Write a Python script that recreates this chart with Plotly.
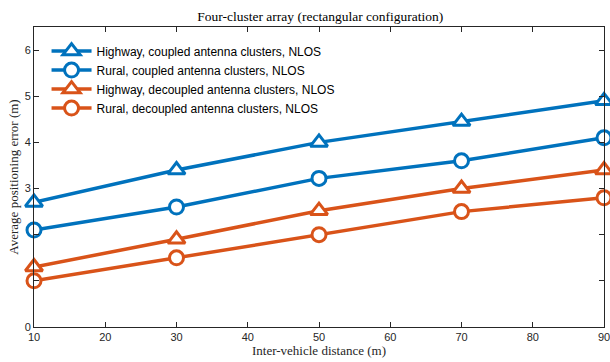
import plotly.graph_objects as go

distance = [10, 30, 50, 70, 90]
highway_coupled = [2.7, 3.4, 4.0, 4.45, 4.9]
rural_coupled = [2.1, 2.6, 3.22, 3.6, 4.1]
highway_decoupled = [1.3, 1.9, 2.52, 3.0, 3.4]
rural_decoupled = [1.0, 1.5, 2.0, 2.5, 2.8]

names = [
    "Highway, coupled antenna clusters, NLOS",
    "Rural, coupled antenna clusters, NLOS",
    "Highway, decoupled antenna clusters, NLOS",
    "Rural, decoupled antenna clusters, NLOS",
]
series = [highway_coupled, rural_coupled, highway_decoupled, rural_decoupled]
colors = ["#0072BD", "#0072BD", "#D95319", "#D95319"]
symbols = ["triangle-up", "circle", "triangle-up", "circle"]
sizes = [15, 14, 15, 14]

xticks = [10, 20, 30, 40, 50, 60, 70, 80, 90]
yticks = [0, 1, 2, 3, 4, 5, 6]
ytext = ["0", "", "", "3", "4", "5", "6"]

fig = go.Figure()
for name, ys, c, s, sz in zip(names, series, colors, symbols, sizes):
    fig.add_trace(go.Scatter(
        x=distance, y=ys, name=name, mode="lines+markers",
        line=dict(color=c, width=3.5),
        marker=dict(symbol=s, size=sz, color="white",
                    line=dict(color=c, width=3)),
        cliponaxis=False,
    ))

axis_common = dict(
    showline=True, linecolor="#262626", linewidth=1, mirror="ticks",
    ticks="inside", ticklen=5, tickcolor="#262626", showgrid=False,
    zeroline=False, automargin=False, ticklabeloverflow="allow",
    tickfont=dict(family="Liberation Sans, Arial", size=11, color="#262626"),
)
fig.update_xaxes(range=[10, 90], tickvals=xticks, **axis_common,
                 title=dict(text="Inter-vehicle distance (m)",
                            font=dict(family="Liberation Serif, Times New Roman", size=13, color="#262626"),
                            standoff=2))
fig.update_yaxes(range=[0, 6.5], tickvals=yticks, ticktext=ytext, **axis_common,
                 title=dict(text="Average positioning error (m)",
                            font=dict(family="Liberation Serif, Times New Roman", size=13, color="#262626"),
                            standoff=3))

fig.update_layout(
    width=610, height=362,
    margin=dict(l=34, r=6, t=27, b=35, autoexpand=False),
    paper_bgcolor="white", plot_bgcolor="white",
    title=dict(text="Four-cluster array (rectangular configuration)",
               font=dict(family="Liberation Serif, Times New Roman", size=13.5, color="#000000"),
               x=0.525, xanchor="center", y=0.955, yanchor="middle"),
    legend=dict(x=0.022, y=0.968, xanchor="left", yanchor="top",
                bgcolor="rgba(255,255,255,0)", borderwidth=0,
                font=dict(family="Liberation Sans, Arial", size=12, color="#000000"),
                tracegroupgap=0, itemwidth=40),
    showlegend=True,
)

fig.write_html("out.html", config={"displayModeBar": False},
               post_script="document.body.style.margin='0';document.body.style.padding='0';")
